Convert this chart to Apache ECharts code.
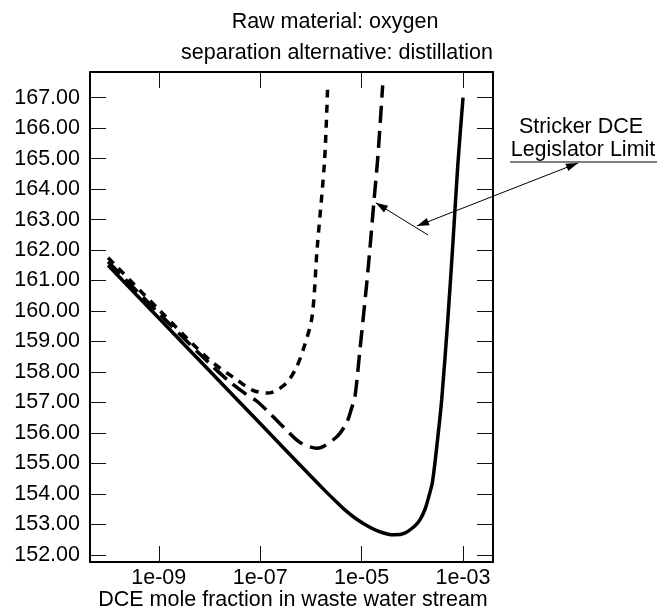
<!DOCTYPE html>
<html><head><meta charset="utf-8">
<script src="https://cdn.jsdelivr.net/npm/echarts@6/dist/echarts.min.js"></script>
<style>html,body{margin:0;padding:0;background:#fff}#c{width:663px;height:614px}</style>
</head><body><div id="c"></div>
<script>
// ---- text ----
const titleLines = ['Raw material: oxygen', 'separation alternative: distillation'];
const xAxisTitle = 'DCE mole fraction in waste water stream';
const annotationLines = ['Stricker DCE', 'Legislator Limit'];

// ---- ticks ----
const xTickValues = [1e-9, 1e-7, 1e-5, 1e-3];
const yTickValues = [152, 153, 154, 155, 156, 157, 158, 159, 160, 161, 162, 163, 164, 165, 166, 167];
const xRange = [4.4e-11, 3.9e-3];
const yRange = [151.77, 167.84];

// ---- series: solid curve ----
const solidX = [1e-10, 1e-9, 1e-8, 1e-7, 1e-6, 2.0e-6, 3.2e-6, 5.0e-6, 7.9e-6, 1.26e-5, 2.0e-5, 3.2e-5, 4.5e-5, 7.1e-5, 1.12e-4, 1.41e-4, 1.78e-4, 2.1e-4, 2.5e-4, 3.2e-4, 3.8e-4, 5.0e-4, 6.3e-4, 7.9e-4, 1e-3];
const solidY = [161.5, 159.77, 158.04, 156.31, 154.58, 154.07, 153.74, 153.44, 153.18, 152.97, 152.8, 152.69, 152.66, 152.72, 152.95, 153.15, 153.5, 153.9, 154.4, 155.9, 157.1, 159.7, 162.2, 164.8, 167.0];

// ---- series: long-dash curve ----
const longDashX = [1e-10, 1e-9, 1e-8, 2.5e-8, 5e-8, 8.5e-8, 1.6e-7, 3.2e-7, 6e-7, 1.32e-6, 3.2e-6, 5.1e-6, 6.3e-6, 7.4e-6, 9.1e-6, 1.26e-5, 1.45e-5, 1.74e-5, 2.1e-5, 2.6e-5];
const longDashY = [161.62, 159.93, 158.28, 157.68, 157.3, 157.05, 156.62, 156.12, 155.7, 155.5, 155.87, 156.35, 156.8, 157.2, 158.6, 160.9, 162.0, 163.55, 165.1, 167.4];

// ---- series: short-dash curve ----
const shortDashX = [1e-10, 1e-9, 1e-8, 3.5e-8, 7e-8, 1.35e-7, 2e-7, 3.3e-7, 5e-7, 7e-7, 1.05e-6, 1.32e-6, 1.86e-6, 2.14e-6];
const shortDashY = [161.75, 160.05, 158.4, 157.74, 157.41, 157.31, 157.38, 157.64, 158.1, 158.72, 159.8, 162.0, 164.95, 167.4];

const FONT = "'Liberation Sans', Arial, Helvetica, sans-serif";
const FS = 21.5;
const lg = v => Math.log10(v);
const pairs = (xs, ys) => xs.map((x, i) => [lg(x), ys[i]]);
const xExp = xTickValues.map(lg);
const fmtX = v => { const e = Math.round(-v); return '1e-' + (e < 10 ? '0' + e : e); };

const chart = echarts.init(document.getElementById('c'), null, { renderer: 'canvas' });

const xAxisBase = {
  type: 'value', min: lg(xRange[0]), max: lg(xRange[1]),
  axisLine: { show: true, onZero: false, lineStyle: { color: '#000', width: 2 } },
  axisTick: { show: true, inside: true, length: 16, customValues: xExp, lineStyle: { color: '#111', width: 1 } },
  splitLine: { show: false }
};
const yAxisBase = {
  type: 'value', min: yRange[0], max: yRange[1],
  axisLine: { show: true, onZero: false, lineStyle: { color: '#000', width: 2 } },
  axisTick: { show: true, inside: true, length: 16, customValues: yTickValues, lineStyle: { color: '#111', width: 1 } },
  splitLine: { show: false }
};

const lineSeries = (name, data, type, width) => ({
  name, type: 'line', data, showSymbol: false, symbol: 'none', smooth: 0.3,
  lineStyle: { color: '#000', width, type, cap: 'butt' }, z: 3, animation: false
});

chart.setOption({
  animation: false,
  backgroundColor: '#fff',
  grid: { left: 90, right: 170, top: 72, bottom: 52, containLabel: false },
  xAxis: [
    Object.assign({}, xAxisBase, { position: 'bottom',
      axisLabel: { show: true, customValues: xExp, formatter: fmtX, color: '#000', fontFamily: FONT, fontSize: FS, margin: 5 } }),
    Object.assign({}, xAxisBase, { position: 'top', axisLabel: { show: false } })
  ],
  yAxis: [
    Object.assign({}, yAxisBase, { position: 'left',
      axisLabel: { show: true, customValues: yTickValues, formatter: v => v.toFixed(2), color: '#000', fontFamily: FONT, fontSize: FS, margin: 10 } }),
    Object.assign({}, yAxisBase, { position: 'right', axisLabel: { show: false } })
  ],
  series: [
    lineSeries('solid', pairs(solidX, solidY), 'solid', 3.5),
    lineSeries('long', pairs(longDashX, longDashY), [17, 8], 3.5),
    lineSeries('short', pairs(shortDashX, shortDashY), [8, 7], 3.5)
  ]
});

function arrowHead(tip, from, len, hw) {
  const dx = tip[0] - from[0], dy = tip[1] - from[1];
  const d = Math.hypot(dx, dy), ux = dx / d, uy = dy / d;
  const bx = tip[0] - ux * len, by = tip[1] - uy * len;
  return { type: 'polygon', shape: { points: [tip, [bx - uy * hw, by + ux * hw], [bx + uy * hw, by - ux * hw]] }, style: { fill: '#000' }, silent: true };
}
const txt = (t, x, y, align) => ({ type: 'text', x, y, silent: true,
  style: { text: t, fill: '#000', font: FS + 'px ' + FONT, textAlign: align || 'center', textVerticalAlign: 'middle' } });

// tip of the arrow on the long-dash curve, from the data scale
const tip2 = chart.convertToPixel({ gridIndex: 0 }, [lg(1.74e-5), 163.55]);
const a1s = [578, 163], a1e = [417, 226];
const a2s = [428, 235];
chart.setOption({
  graphic: [
    txt(titleLines[0], 335, 22),
    txt(titleLines[1], 337, 53),
    txt(xAxisTitle, 293, 600),
    txt(annotationLines[0], 581, 127),
    txt(annotationLines[1], 583, 150),
    { type: 'line', shape: { x1: 510, y1: 162, x2: 657, y2: 162 }, style: { stroke: '#000', lineWidth: 1 }, silent: true },
    { type: 'line', shape: { x1: a1s[0], y1: a1s[1], x2: a1e[0], y2: a1e[1] }, style: { stroke: '#000', lineWidth: 1 }, silent: true },
    arrowHead(a1s, a1e, 12, 4),
    arrowHead(a1e, a1s, 12, 4),
    { type: 'line', shape: { x1: a2s[0], y1: a2s[1], x2: tip2[0] + 2, y2: tip2[1] }, style: { stroke: '#000', lineWidth: 1 }, silent: true },
    arrowHead([tip2[0] + 2, tip2[1]], a2s, 12, 4)
  ]
});
</script>
</body></html>
